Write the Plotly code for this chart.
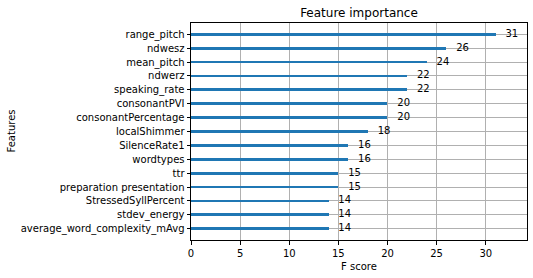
import plotly.graph_objects as go

features = ["range_pitch", "ndwesz", "mean_pitch", "ndwerz", "speaking_rate",
            "consonantPVI", "consonantPercentage", "localShimmer", "SilenceRate1",
            "wordtypes", "ttr", "preparation presentation", "StressedSyllPercent",
            "stdev_energy", "average_word_complexity_mAvg"]
scores = [31, 26, 24, 22, 22, 20, 20, 18, 16, 16, 15, 15, 14, 14, 14]

# bottom-to-top order as in matplotlib barh
feats_bt = features[::-1]
scores_bt = scores[::-1]
ypos = list(range(len(feats_bt)))

font = dict(family="DejaVu Sans", size=10, color="black")

W, H = 533, 278
L, R, T, B = 191, 527, 23, 240
pw, ph = R - L, B - T

fig = go.Figure()
fig.add_trace(go.Bar(x=scores_bt, y=ypos, orientation="h", width=0.2,
                     marker=dict(color="#1f77b4", line=dict(width=0)),
                     showlegend=False, hoverinfo="skip"))
fig.add_trace(go.Scatter(x=[s + 1 for s in scores_bt], y=ypos, mode="text",
                         text=[str(s) for s in scores_bt], textposition="middle right",
                         textfont=font, showlegend=False, hoverinfo="skip", cliponaxis=False))

axis_common = dict(showline=True, linecolor="black", linewidth=1, mirror=True,
                   ticks="outside", ticklen=3.5, tickwidth=0.8, tickcolor="black",
                   showgrid=True, gridcolor="#b0b0b0", gridwidth=0.8,
                   zeroline=False, tickfont=font, layer="above traces",
                   automargin=False)

fig.update_layout(
    width=W, height=H,
    margin=dict(l=L, r=W - R, t=T, b=H - B),
    paper_bgcolor="white", plot_bgcolor="white",
    title=dict(text="Feature importance", x=(L + R) / 2 / W, xanchor="center",
               y=1 - 13 / H, yanchor="middle",
               font=dict(family="DejaVu Sans", size=12, color="black")),
    xaxis=dict(range=[0, 34.2], tickvals=[0, 5, 10, 15, 20, 25, 30], **axis_common),
    yaxis=dict(range=[-0.81, 14.81], tickvals=ypos, ticktext=feats_bt, **axis_common),
    bargap=0,
    annotations=[
        dict(text="F score", xref="paper", yref="paper", x=0.5, y=-(266 - B) / ph,
             xanchor="center", yanchor="middle", showarrow=False, font=font),
        dict(text="Features", xref="paper", yref="paper", x=-(L - 11) / pw, y=0.5,
             xanchor="center", yanchor="middle", textangle=-90, showarrow=False, font=font),
    ],
)

fig.write_html("out.html", config={"displayModeBar": False},
               post_script="document.body.style.margin='0';document.body.style.padding='0';")
